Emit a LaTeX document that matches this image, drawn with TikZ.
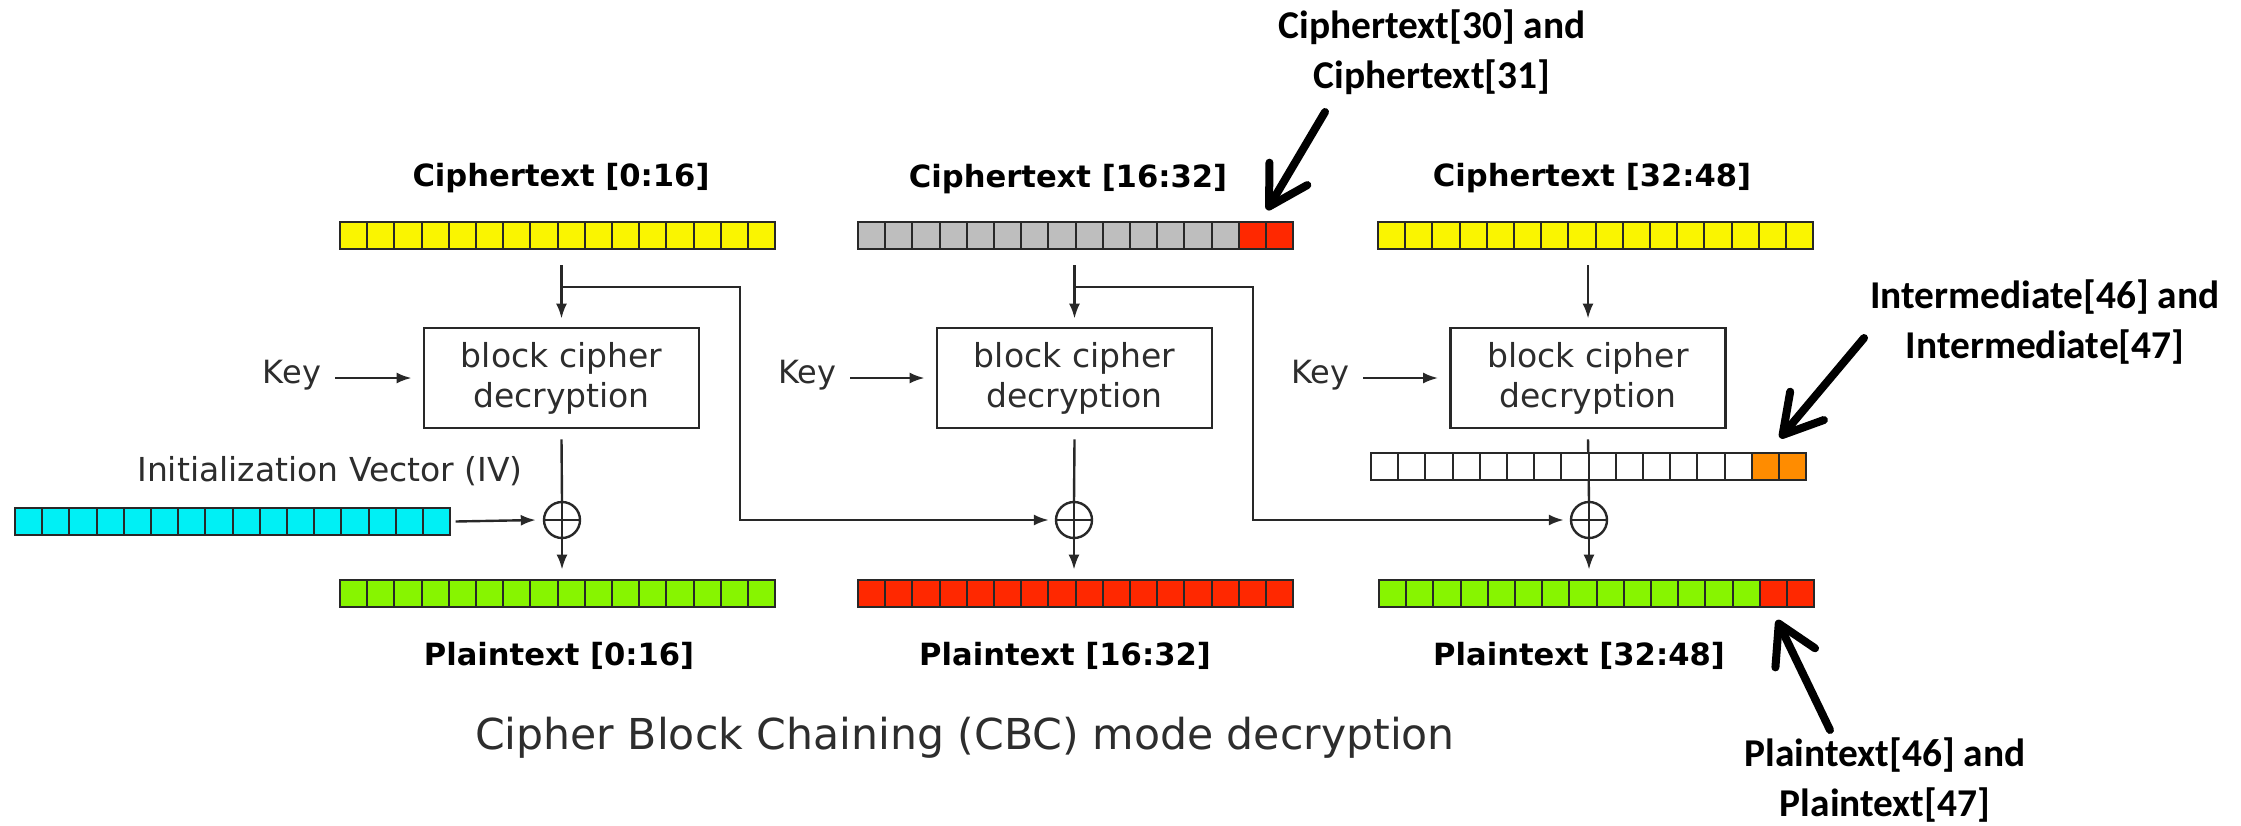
\documentclass[tikz,border=0pt]{standalone}
\usepackage{fontspec}
\setmainfont{DejaVu Sans}
\newfontfamily\annfont{Carlito}
\usetikzlibrary{arrows.meta}
\definecolor{cyel}{RGB}{250,245,0}
\definecolor{cgray}{RGB}{190,190,190}
\definecolor{cred}{RGB}{255,40,0}
\definecolor{cgreen}{RGB}{135,245,0}
\definecolor{ccyan}{RGB}{0,240,245}
\definecolor{corange}{RGB}{255,140,0}
\definecolor{cline}{RGB}{40,40,40}
\definecolor{ctext}{RGB}{45,45,45}

\newcommand\cellbar[6]{%
  \node[barnode] (#1) at ({#2+217.6},{#3+13.5}) {};
  \foreach \i in {0,...,15}{%
    \ifnum\i<#4\relax\def\cc{#5}\else\def\cc{#6}\fi
    \filldraw[cell,fill=\cc] ({#2+\i*27.2},#3) rectangle ++(27.2,27);
  }%
}

\begin{document}
\begin{tikzpicture}[x=0.5pt,y=-0.5pt,
  barnode/.style={minimum width=217.6pt,minimum height=13.5pt,inner sep=0pt,draw=none},
  cell/.style={draw=cline,line width=1pt},
  boxst/.style={draw=cline,line width=1.4pt,minimum width=137.5pt,minimum height=50pt,
     align=center,text=ctext,font=\fontsize{16.5}{20}\selectfont},
  lbl/.style={inner sep=0pt,text=black,font=\bfseries\fontsize{15.3}{18}\selectfont},
  reg/.style={inner sep=0pt,text=ctext,font=\fontsize{16}{19}\selectfont},
  xor/.style={circle,draw=cline,line width=1.2pt,minimum size=18pt,inner sep=0pt,
     path picture={\draw[cline,line width=1.2pt]
       (path picture bounding box.north) -- (path picture bounding box.south)
       (path picture bounding box.west) -- (path picture bounding box.east);}},
  line/.style={draw=cline,line width=1.2pt},
  arr/.style={line,-{Latex[length=7.5pt,width=5.5pt]}},
  ann/.style={inner sep=0pt,align=center,text=black,font=\annfont\bfseries\fontsize{19.7}{25}\selectfont},
  bigarr/.style={line width=4pt,black,line cap=round,line join=round,
     -{Straight Barb[length=19pt,width=22pt,round]}},
]
\fill[white] (0,0) rectangle (2241,825);
\useasboundingbox (0,0) rectangle (2241,825);

% bars
\cellbar{C1}{340}{222}{16}{cyel}{cyel}
\cellbar{C2}{858}{222}{14}{cgray}{cred}
\cellbar{C3}{1378}{222}{16}{cyel}{cyel}
\cellbar{IV}{15}{508}{16}{ccyan}{ccyan}
\cellbar{P1}{340}{580}{16}{cgreen}{cgreen}
\cellbar{P2}{858}{580}{16}{cred}{cred}
\cellbar{P3}{1379}{580}{14}{cgreen}{cred}

% labels
\node[lbl] (CT1) at (561,178) {Ciphertext [0:16]};
\node[lbl] (CT2) at (1068,179) {Ciphertext [16:32]};
\node[lbl] (CT3) at (1592,178) {Ciphertext [32:48]};
\node[lbl] (PT1) at (559,656) {Plaintext [0:16]};
\node[lbl] (PT2) at (1065,656) {Plaintext [16:32]};
\node[lbl] (PT3) at (1579,656) {Plaintext [32:48]};

% boxes
\node[boxst] (B1) at (561.5,378) {block cipher\\decryption};
\node[boxst] (B2) at (1074.5,378) {block cipher\\decryption};
\node[boxst] (B3) at (1588,378) {block cipher\\decryption};

% keys
\node[reg] (K1) at (292,375) {Key};
\node[reg] (K2) at (807,375) {Key};
\node[reg] (K3) at (1320,375) {Key};
\draw[arr] (K1.east |- B1.west) ++(7pt,0) -- ([xshift=-5.5pt]B1.west);
\draw[arr] (K2.east |- B2.west) ++(7pt,0) -- ([xshift=-5.5pt]B2.west);
\draw[arr] (K3.east |- B3.west) ++(7pt,0) -- ([xshift=-5.5pt]B3.west);

% xors
\node[xor] (X1) at (562,520) {};
\node[xor] (X2) at (1074,520) {};
\node[xor] (X3) at (1589,520) {};

% IV
\node[reg,font=\fontsize{16.5}{19}\selectfont] (IVL) at (330,471) {Initialization Vector (IV)};
\draw[arr] ([xshift=2.5pt]IV.east) -- ([xshift=-3.5pt]X1.west);

% ciphertext into boxes
\draw[arr] (B1.north |- C1.south) ++(0,-8pt) -- ([yshift=4pt]B1.north);
\draw[arr] (B2.north |- C2.south) ++(0,-8pt) -- ([yshift=4pt]B2.north);
\draw[arr] (B3.north |- C3.south) ++(0,-8pt) -- ([yshift=4pt]B3.north);

% boxes to xors
\draw[line] (B1.south) ++(0,-5pt) -- (X1.north);
\draw[line] (B2.south) ++(0,-5pt) -- (X2.north);
\draw[line] (B3.south) ++(0,-5pt) -- (X3.north);

% xors to plaintext
\coordinate (p1t) at ([yshift=5pt]P1.north);
\coordinate (p2t) at ([yshift=5pt]P2.north);
\coordinate (p3t) at ([yshift=5pt]P3.north);
\draw[arr] (X1.south) -- (X1 |- p1t);
\draw[arr] (X2.south) -- (X2 |- p2t);
\draw[arr] (X3.south) -- (X3 |- p3t);

% feedback
\coordinate (fb1) at (740,287);
\coordinate (fb2) at (1253,287);
\draw[arr] (B1.north |- fb1) -- (fb1) |- ([xshift=-3pt]X2.west);
\draw[arr] (B2.north |- fb2) -- (fb2) |- ([xshift=-3pt]X3.west);

% intermediate bar
\cellbar{I3}{1371}{453}{14}{white}{corange}

% title
\node[inner sep=0pt,text=ctext,font=\fontsize{21.3}{26}\selectfont] (T) at (965,738)
  {Cipher Block Chaining (CBC) mode decryption};

% annotations
\node[ann] (A1) at (1432,52) {Ciphertext[30] and\\Ciphertext[31]};
\node[ann] (A2) at (2045,322) {Intermediate[46] and\\Intermediate[47]};
\node[ann] (A3) at (1885,780) {Plaintext[46] and\\Plaintext[47]};
\coordinate (a1s) at (1325,112); \coordinate (a1e) at (1267,210);
\coordinate (a2s) at (1864,338); \coordinate (a2e) at (1780,438);
\coordinate (a3s) at (1830,730); \coordinate (a3e) at (1777,620);
\draw[bigarr] (a1s) -- (a1e);
\draw[bigarr] (a2s) -- (a2e);
\draw[bigarr] (a3s) -- (a3e);
\end{tikzpicture}
\end{document}
